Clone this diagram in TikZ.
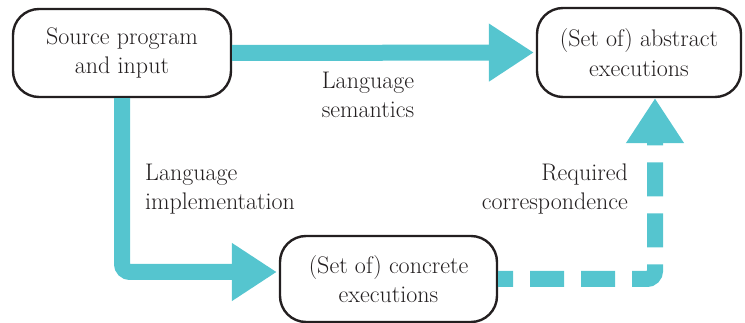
\documentclass[tikz,border=0pt]{standalone}
\usepackage{fontspec}
\setmainfont{Latin Modern Roman}
\usetikzlibrary{arrows.meta}
\definecolor{flow}{HTML}{55C5CF}
\definecolor{ink}{HTML}{231F20}
\begin{document}
\begin{tikzpicture}[x=1pt,y=-1pt,
  every node/.style={text=ink, font=\fontsize{24}{29.5}\selectfont},
  stage/.style={draw=ink, line width=2.4pt, rounded corners=26pt, align=center, inner sep=0pt},
  flowline/.style={draw=flow, line width=16pt, -{Triangle[width=55pt,length=45pt]}},
  caption/.style={inner sep=0pt}]
\useasboundingbox (0,0) rectangle (745,323);

% the three stages
\node[stage, minimum width=218pt, minimum height=88pt] (src) at (122,53) {Source program\\and input};
\node[stage, minimum width=204pt, minimum height=89pt] (abs) at (639,52.5) {(Set of) abstract\\executions};
\node[stage, minimum width=217pt, minimum height=86pt] (con) at (388.5,279) {(Set of) concrete\\executions};

% connectors
\draw[flowline, shorten >=2pt] (src.east) -- (abs.west);
\draw[flowline, rounded corners=8pt, shorten >=2pt] (src.south) |- ([yshift=7pt]con.west);
\draw[flowline, dash pattern=on 34pt off 17pt, dash phase=19pt, rounded corners=8pt]
  (con.east) -| ([xshift=16pt]abs.south);

% connector labels (base anchor sits on the last line)
\node[caption, align=center, anchor=base] (sem) at (368,118) {Language\\semantics};
\node[caption, align=left, anchor=base west] (impl) at (145,210) {Language\\implementation};
\node[caption, align=right, anchor=base east] (corr) at (628,210) {Required\\correspondence};
\end{tikzpicture}
\end{document}
